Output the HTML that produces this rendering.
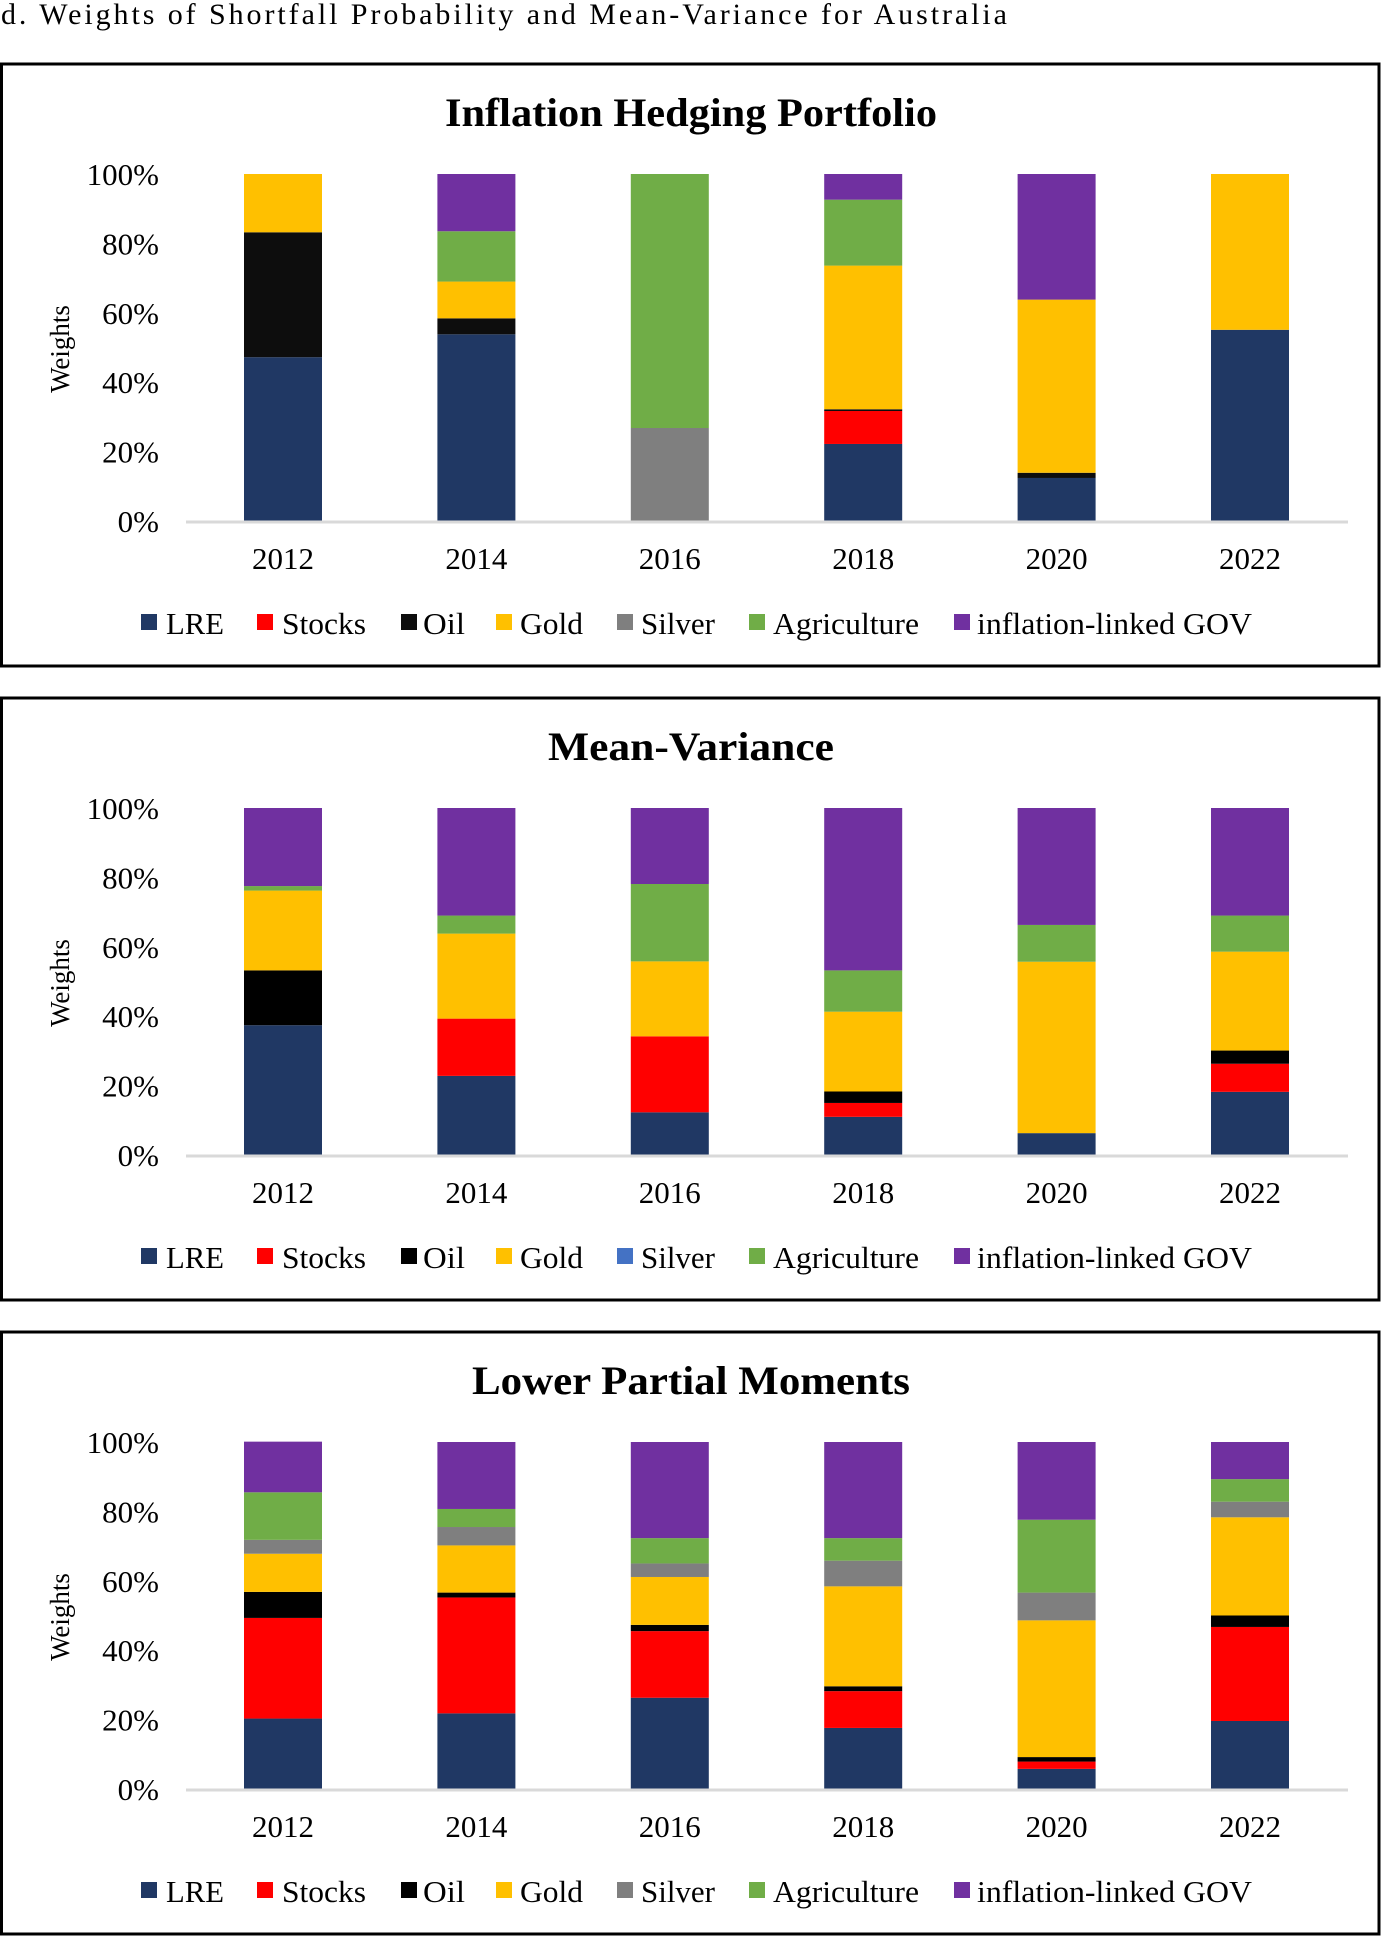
<!DOCTYPE html>
<html><head><meta charset="utf-8">
<style>
html,body{margin:0;padding:0;background:#fff;}
svg{display:block;}
text{font-family:"Liberation Serif","Times New Roman",serif;fill:#000;}
</style></head>
<body>
<svg id="page" width="1382" height="1937" viewBox="0 0 1382 1937" xmlns="http://www.w3.org/2000/svg">
<text x="1" y="24" font-size="30" textLength="1006" lengthAdjust="spacing">d.  Weights  of  Shortfall  Probability  and  Mean-Variance  for  Australia</text>
<g id="charts"></g>
</svg>
<script>
const years = ["2012","2014","2016","2018","2020","2022"];
const seriesNames = ["LRE","Stocks","Oil","Gold","Silver","Agriculture","inflation-linked GOV"];
const tickLabels = ["0%","20%","40%","60%","80%","100%"];
const tickValues = [0,20,40,60,80,100];
const chartTitles = ["Inflation Hedging Portfolio","Mean-Variance","Lower Partial Moments"];
const ihpLRE = [47.2,53.8,0,22.2,12.4,55.1];
const ihpStocks = [0,0,0,9.5,0,0];
const ihpOil = [36.0,4.6,0,0.5,1.5,0];
const ihpGold = [16.8,10.6,0,41.4,49.9,44.9];
const ihpSilver = [0,0,26.8,0,0,0];
const ihpAgri = [0,14.5,73.2,19.0,0,0];
const ihpGov = [0,16.5,0,7.4,36.2,0];
const mvLRE = [37.4,22.8,12.3,11.0,6.3,18.2];
const mvStocks = [0,16.5,21.9,4.0,0,8.1];
const mvOil = [15.8,0,0,3.3,0,3.8];
const mvGold = [23.0,24.5,21.6,23.0,49.4,28.5];
const mvSilver = [0,0,0,0,0,0];
const mvAgri = [1.3,5.2,22.3,11.9,10.6,10.4];
const mvGov = [22.5,31.0,21.9,46.8,33.7,31.0];
const lpmLRE = [20.3,21.8,26.3,17.6,5.8,19.6];
const lpmStocks = [29.0,33.4,19.2,10.6,2.1,27.1];
const lpmOil = [7.5,1.4,1.8,1.4,1.3,3.3];
const lpmGold = [11.0,13.6,13.8,28.8,39.4,28.3];
const lpmSilver = [4.0,5.3,3.9,7.4,8.0,4.5];
const lpmAgri = [13.7,5.2,7.3,6.5,21.0,6.5];
const lpmGov = [14.6,19.3,27.7,27.7,22.4,10.7];

const charts = [
  {series:[ihpLRE,ihpStocks,ihpOil,ihpGold,ihpSilver,ihpAgri,ihpGov], colors:["#203864","#FF0000","#0d0d0d","#FFC000","#7F7F7F","#70AD47","#7030A0"]},
  {series:[mvLRE,mvStocks,mvOil,mvGold,mvSilver,mvAgri,mvGov], colors:["#203864","#FF0000","#000000","#FFC000","#4472C4","#70AD47","#7030A0"]},
  {series:[lpmLRE,lpmStocks,lpmOil,lpmGold,lpmSilver,lpmAgri,lpmGov], colors:["#203864","#FF0000","#000000","#FFC000","#7F7F7F","#70AD47","#7030A0"]}
];
const NS="http://www.w3.org/2000/svg";
const root=document.getElementById('charts');
function mk(tag,attrs,parent){const e=document.createElementNS(NS,tag);for(const k in attrs)e.setAttribute(k,attrs[k]);parent.appendChild(e);return e;}
const legendSq=[141,257,401,496,617,749,954];
const legendTx=[166,282,423,520,641,773,977];
const legendW=[58,84,42,63,74,146,275];
charts.forEach((c,ci)=>{
  const off=634*ci;
  const g=mk('g',{},root);
  
  
  const box=mk('rect',{x:1.5,y:64+off,width:1377.5,height:602,fill:'none',stroke:'#000','stroke-width':3},g);
  
  
  const tw=[492,286,438][ci];
  const t=mk('text',{x:691-tw/2,y:126+off,'font-size':40,'font-weight':'bold',textLength:tw,lengthAdjust:'spacingAndGlyphs'},g);
  t.textContent=chartTitles[ci];
  
  
  const y0=521+off, y100=174+off;
  const yScale=v=>y0-(y0-y100)*v/100;
  const xScale=i=>283+i*193.4;
  tickValues.forEach((tv,ti)=>{
    const tl=mk('text',{x:159,y:yScale(tv)+11,'font-size':31,'text-anchor':'end'},g);
    tl.textContent=tickLabels[ti];
    
    
  });
  const yt=mk('text',{x:0,y:0,'font-size':27,'text-anchor':'middle',transform:'translate(69,'+(349+off)+') rotate(-90)'},g);
  yt.textContent='Weights';
  
  
  years.forEach((yr,i)=>{
    let acc=0;
    c.series.forEach((s,si)=>{
      const v=s[i]; if(!v) return;
      const r=mk('rect',{x:xScale(i)-39,y:yScale(acc+v),width:78,height:yScale(acc)-yScale(acc+v),fill:c.colors[si]},g);
      
      
      acc+=v;
    });
    const xl=mk('text',{x:xScale(i),y:569+off,'font-size':31,'text-anchor':'middle'},g);
    xl.textContent=yr;
    
    
  });
  const ax=mk('line',{x1:186,x2:1348,y1:y0+1,y2:y0+1,stroke:'#d9d9d9','stroke-width':3},g);
  
  
  seriesNames.forEach((n,si)=>{
    const sq=mk('rect',{x:legendSq[si],y:614+off,width:16,height:16,fill:c.colors[si]},g);
    
    
    const lt=mk('text',{x:legendTx[si],y:634+off,'font-size':31,textLength:legendW[si],lengthAdjust:'spacingAndGlyphs'},g);
    lt.textContent=n;
    
    
  });
});
</script>
</body></html>
